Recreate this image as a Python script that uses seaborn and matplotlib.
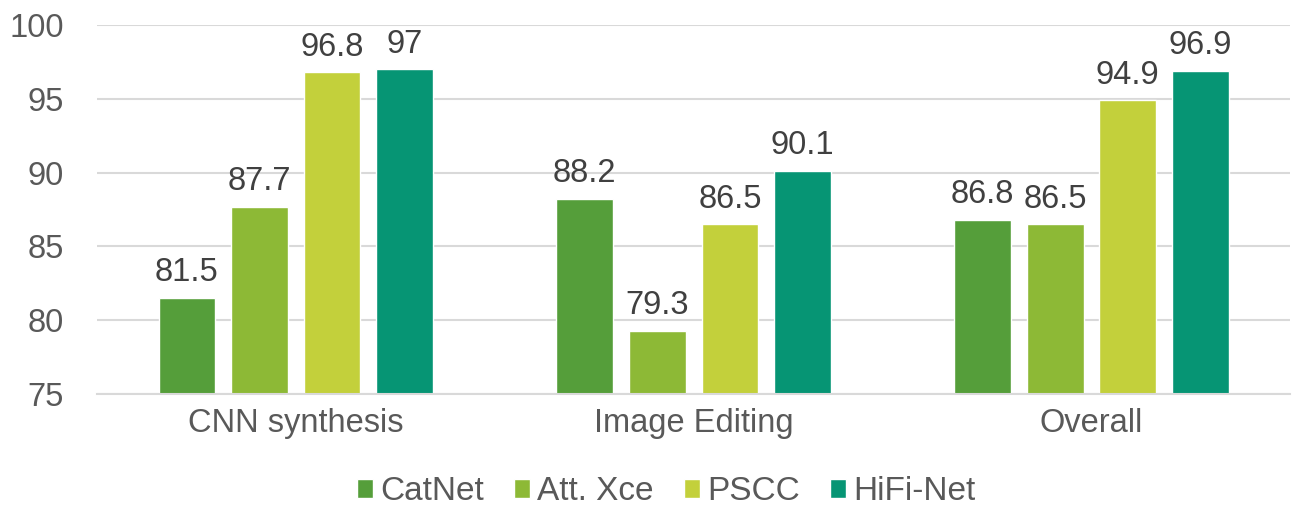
import matplotlib
matplotlib.use("Agg")
import matplotlib.pyplot as plt
import seaborn as sns
import pandas as pd

categories = ["CNN synthesis", "Image Editing", "Overall"]
methods = ["CatNet", "Att. Xce", "PSCC", "HiFi-Net"]
catnet = [81.5, 88.2, 86.8]
att_xce = [87.7, 79.3, 86.5]
pscc = [96.8, 86.5, 94.9]
hifinet = [97, 90.1, 96.9]

colors = ["#559E3A", "#8DB936", "#C3D03B", "#069574"]

rows = []
for m, vals in zip(methods, [catnet, att_xce, pscc, hifinet]):
    for c, v in zip(categories, vals):
        rows.append({"category": c, "method": m, "value": v})
df = pd.DataFrame(rows)

sns.set_style("white")
plt.rcParams["font.family"] = ["Liberation Sans", "DejaVu Sans"]

fig = plt.figure(figsize=(12.93, 5.12), dpi=100)
ax = fig.add_axes([0.075, 0.2305, 0.923, 0.7205])

sns.barplot(data=df, x="category", y="value", hue="method", hue_order=methods,
            palette=colors, saturation=1, width=0.73, gap=0.22, ax=ax, legend=True)

for cont in ax.containers:
    labels = [f"{v:g}" for v in cont.datavalues]
    ax.bar_label(cont, labels=labels, padding=7, fontsize=23.5, color="#404040")

ax.set_ylim(75, 100)
ax.set_xlim(-0.5, 2.5)
ax.set_yticks([75, 80, 85, 90, 95, 100])
ax.yaxis.grid(True, color="#D9D9D9", linewidth=1.5)
ax.set_axisbelow(True)
for s in ["top", "right", "left"]:
    ax.spines[s].set_visible(False)
ax.spines["bottom"].set_color("#D9D9D9")
ax.spines["bottom"].set_linewidth(1.5)
ax.tick_params(axis="both", length=0, labelsize=23.5, labelcolor="#595959")
ax.tick_params(axis="y", pad=24)
ax.tick_params(axis="x", pad=10)
ax.set_xlabel("")
ax.set_ylabel("")

handles, labs = ax.get_legend_handles_labels()
ax.get_legend().remove()
fig.legend(handles, labs, loc="center", bbox_to_anchor=(0.515, 0.04), ncol=4,
           frameon=False, fontsize=24, labelcolor="#595959", handlelength=0.5,
           handleheight=0.5, handletextpad=0.2, columnspacing=0.9)

fig.savefig("out.png", dpi=100)
